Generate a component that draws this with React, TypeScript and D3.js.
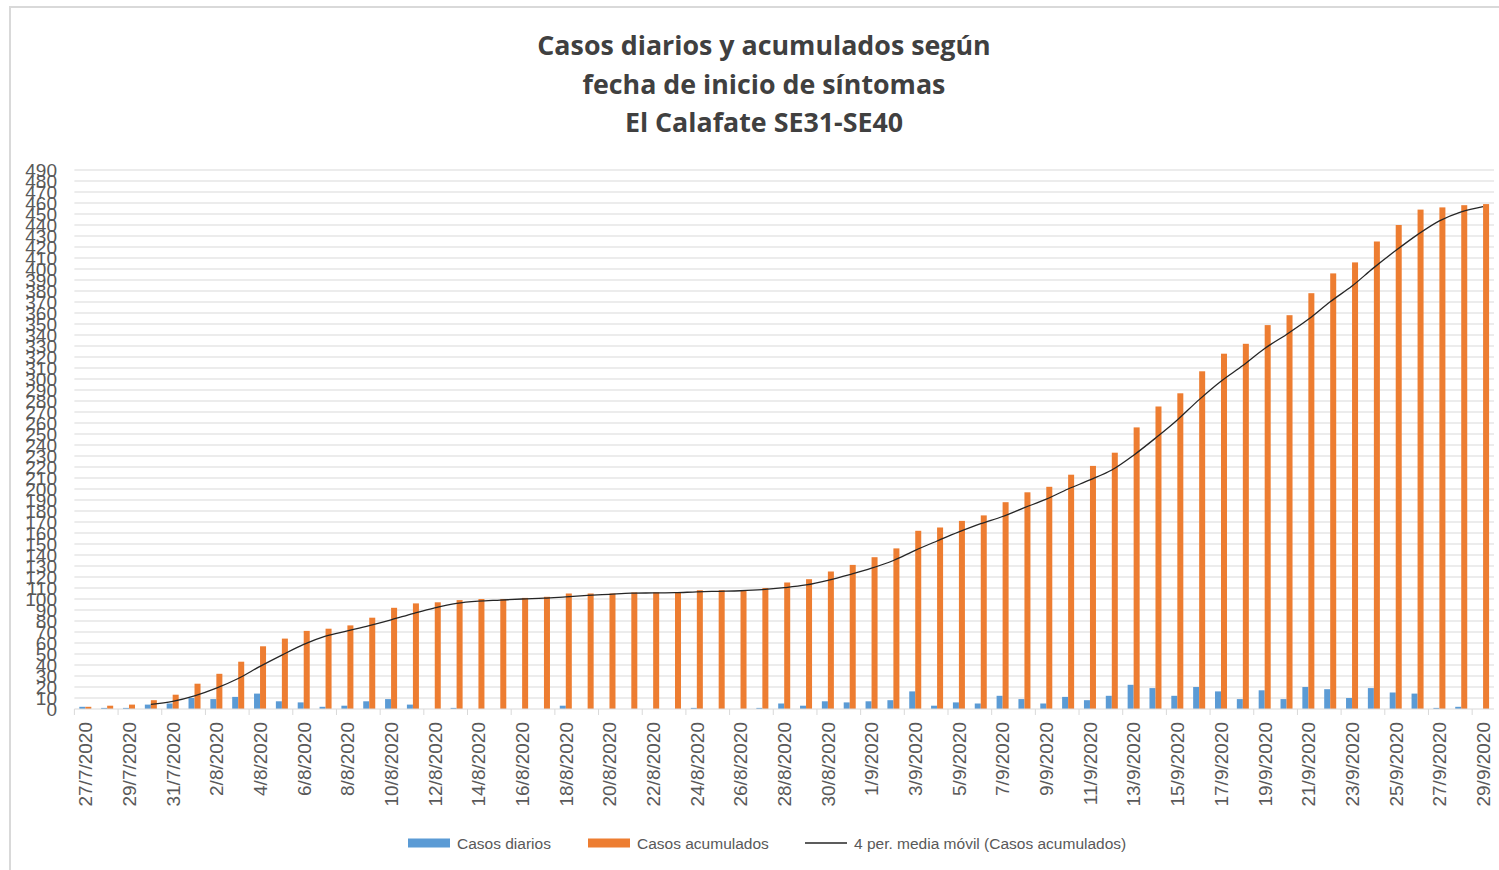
import React from 'react';
import * as d3 from 'd3';

const fechas: string[] = [
  '27/7/2020', '28/7/2020', '29/7/2020', '30/7/2020', '31/7/2020',
  '1/8/2020', '2/8/2020', '3/8/2020', '4/8/2020', '5/8/2020', '6/8/2020', '7/8/2020', '8/8/2020',
  '9/8/2020', '10/8/2020', '11/8/2020', '12/8/2020', '13/8/2020', '14/8/2020', '15/8/2020', '16/8/2020',
  '17/8/2020', '18/8/2020', '19/8/2020', '20/8/2020', '21/8/2020', '22/8/2020', '23/8/2020', '24/8/2020',
  '25/8/2020', '26/8/2020', '27/8/2020', '28/8/2020', '29/8/2020', '30/8/2020', '31/8/2020',
  '1/9/2020', '2/9/2020', '3/9/2020', '4/9/2020', '5/9/2020', '6/9/2020', '7/9/2020', '8/9/2020',
  '9/9/2020', '10/9/2020', '11/9/2020', '12/9/2020', '13/9/2020', '14/9/2020', '15/9/2020', '16/9/2020',
  '17/9/2020', '18/9/2020', '19/9/2020', '20/9/2020', '21/9/2020', '22/9/2020', '23/9/2020', '24/9/2020',
  '25/9/2020', '26/9/2020', '27/9/2020', '28/9/2020', '29/9/2020',
];

const casosDiarios: number[] = [
  2, 1, 1, 4, 5, 10, 9, 11, 14, 7, 6, 2, 3, 7, 9, 4, 0,
  1, 0, 0, 0, 0, 3, 0, 0, 0, 0, 0, 1, 0, 0, 1, 5, 3, 7,
  6, 7, 8, 16, 3, 6, 5, 12, 9, 5, 11, 8, 12,
  22, 19, 12, 20, 16, 9, 17, 9, 20, 18, 10, 19, 15, 14, 1, 2, 0,
];

const casosAcumulados: number[] = [
  2, 3, 4, 8, 13, 23, 32, 43, 57, 64, 71, 73, 76, 83, 92, 96, 97,
  99, 100, 100, 101, 102, 105, 105, 105, 106, 106, 106, 108, 108, 108, 110, 115, 118, 125,
  131, 138, 146, 162, 165, 171, 176, 188, 197, 202, 213, 221, 233,
  256, 275, 287, 307, 323, 332, 349, 358, 378, 396, 406, 425, 440, 454, 456, 458, 459,
];

const yTicks: number[] = d3.range(0, 491, 10);

const titulo: string[] = [
  'Casos diarios y acumulados según',
  'fecha de inicio de síntomas',
  'El Calafate SE31-SE40',
];

const series: string[] = ['Casos diarios', 'Casos acumulados'];
const colores: string[] = ['#5B9BD5', '#ED7D31'];
const periodoMedia = 4;

const W = 1499;
const H = 870;
const left = 74.4;
const right = 1494;
const top = 170;
const bottom = 709;

export default function App() {
  const x0 = d3
    .scaleBand<string>()
    .domain(fechas)
    .range([left, right])
    .paddingInner(0.45)
    .paddingOuter(0.225);
  const x1 = d3.scaleBand<string>().domain(series).range([0, x0.bandwidth()]);
  const y = d3.scaleLinear().domain([0, 490]).range([bottom, top]);
  const step = x0.step();
  const center = (d: string) => (x0(d) as number) + x0.bandwidth() / 2;

  const media = casosAcumulados
    .map((_, i) =>
      i < periodoMedia - 1 ? null : d3.mean(casosAcumulados.slice(i - periodoMedia + 1, i + 1)) as number
    );
  const puntos: [number, number][] = [];
  media.forEach((m, i) => {
    if (m !== null) puntos.push([center(fechas[i]), y(m)]);
  });
  const linea = d3.line().curve(d3.curveCardinal.tension(0))(puntos) || '';

  const labelFont = "'Liberation Sans', Arial, sans-serif";
  const tickIdx = d3.range(0, fechas.length, 2);

  return (
    <svg
      width={W}
      height={H}
      style={{ position: 'absolute', left: 0, top: 0, background: '#fff' }}
      xmlns="http://www.w3.org/2000/svg"
    >
      <rect x={0} y={0} width={W} height={H} fill="#fff" />
      <rect x={10} y={7} width={W + 20} height={H + 20} fill="none" stroke="#d9d9d9" strokeWidth={2} />

      {titulo.map((t, i) => (
        <text
          key={t}
          x={764}
          y={55 + i * 38.5}
          textAnchor="middle"
          fontFamily="'Open Sans', sans-serif"
          fontWeight={700}
          fontSize={26.8}
          fill="#404040"
        >
          {t}
        </text>
      ))}

      {yTicks.filter((v) => v > 0).map((v) => (
        <line key={'g' + v} x1={left} x2={right} y1={y(v)} y2={y(v)} stroke="#d9d9d9" strokeWidth={1} />
      ))}

      {yTicks.map((v) => (
        <text
          key={'yl' + v}
          x={57}
          y={y(v)}
          dy="0.36em"
          textAnchor="end"
          fontFamily={labelFont}
          fontSize={19}
          fill="#595959"
        >
          {v}
        </text>
      ))}

      {fechas.map((f, i) => (
        <g key={'b' + f}>
          <rect
            x={(x0(f) as number) + (x1(series[0]) as number)}
            y={y(casosDiarios[i])}
            width={x1.bandwidth()}
            height={bottom - y(casosDiarios[i])}
            fill={colores[0]}
          />
          <rect
            x={(x0(f) as number) + (x1(series[1]) as number)}
            y={y(casosAcumulados[i])}
            width={x1.bandwidth()}
            height={bottom - y(casosAcumulados[i])}
            fill={colores[1]}
          />
        </g>
      ))}

      <path d={linea} fill="none" stroke="#262626" strokeWidth={1.3} />

      <line x1={left} x2={right} y1={bottom} y2={bottom} stroke="#d9d9d9" strokeWidth={1} />
      {tickIdx.map((i) => (
        <line
          key={'t' + i}
          x1={left + i * step}
          x2={left + i * step}
          y1={bottom}
          y2={bottom + 6}
          stroke="#d9d9d9"
          strokeWidth={1}
        />
      ))}

      {tickIdx.map((i) => (
        <text
          key={'xl' + i}
          transform={`translate(${center(fechas[i])},${bottom + 13}) rotate(-90)`}
          dy="0.36em"
          textAnchor="end"
          fontFamily={labelFont}
          fontSize={19}
          fill="#595959"
        >
          {fechas[i]}
        </text>
      ))}

      <g fontFamily={labelFont} fontSize={15.5} fill="#595959">
        <rect x={408} y={838.5} width={42} height={9} fill={colores[0]} />
        <text x={457} y={843} dy="0.36em">{series[0]}</text>
        <rect x={588} y={838.5} width={42} height={9} fill={colores[1]} />
        <text x={637} y={843} dy="0.36em">{series[1]}</text>
        <line x1={805} x2={847} y1={843} y2={843} stroke="#262626" strokeWidth={1.3} />
        <text x={854} y={843} dy="0.36em">{`${periodoMedia} per. media móvil (Casos acumulados)`}</text>
      </g>
    </svg>
  );
}
